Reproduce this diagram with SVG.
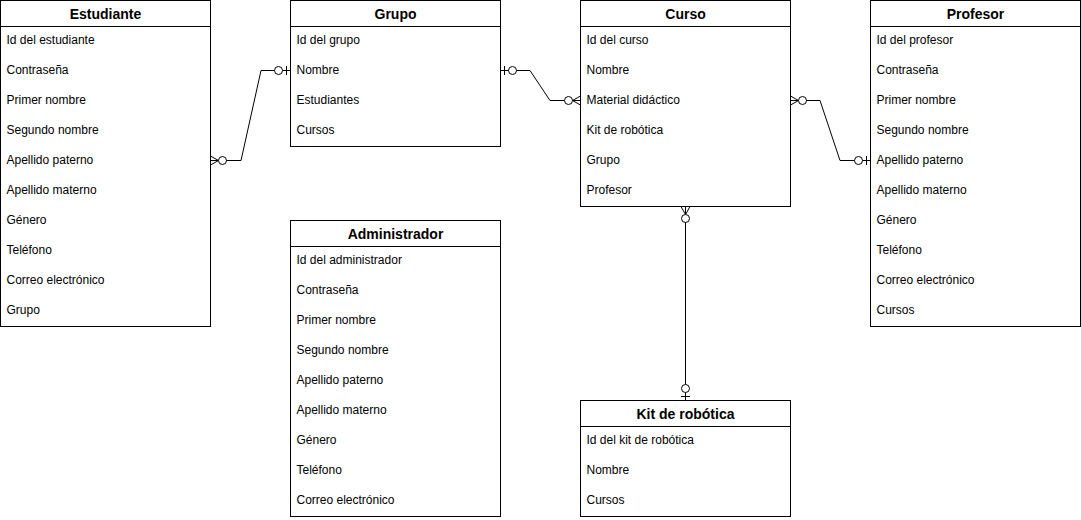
<svg xmlns="http://www.w3.org/2000/svg" width="1081" height="520" viewBox="0 0 1081 520">
<style>
.box{fill:#fff;stroke:#000;stroke-width:1}
.sep{stroke:#000;stroke-width:1}
.title{font-family:"Liberation Sans",Arial,sans-serif;font-size:14px;font-weight:bold;text-anchor:middle;fill:#000}
.row{font-family:"Liberation Sans",Arial,sans-serif;font-size:12px;fill:#000}
.conn{fill:none;stroke:#000;stroke-width:1}
</style>
<defs>
<marker id="zeroMany" markerUnits="userSpaceOnUse" orient="auto-start-reverse" markerWidth="1" markerHeight="1" refX="0" refY="0" overflow="visible">
<path d="M -8 0 L 0 -4.5 M -8 0 L 0 4.5 M -8 0 L 0 0" fill="none" stroke="#000" stroke-width="1"/>
<circle cx="-12" cy="0" r="4" fill="#fff" stroke="#000" stroke-width="1"/>
</marker>
<marker id="zeroOne" markerUnits="userSpaceOnUse" orient="auto-start-reverse" markerWidth="1" markerHeight="1" refX="0" refY="0" overflow="visible">
<path d="M -4 -4.5 L -4 4.5" fill="none" stroke="#000" stroke-width="1"/>
<circle cx="-12" cy="0" r="4" fill="#fff" stroke="#000" stroke-width="1"/>
</marker>
</defs>
<rect width="1081" height="520" fill="#fff"/>

<g id="connectors">
<path class="conn" d="M 210.5 160.5 L 241 160.5 L 261 70.5 L 290.5 70.5" marker-start="url(#zeroMany)" marker-end="url(#zeroOne)"/>
<path class="conn" d="M 500.5 70.5 L 530 70.5 L 550 100.5 L 580.5 100.5" marker-start="url(#zeroOne)" marker-end="url(#zeroMany)"/>
<path class="conn" d="M 790.5 100.5 L 820 100.5 L 840 160.5 L 870.5 160.5" marker-start="url(#zeroMany)" marker-end="url(#zeroOne)"/>
<path class="conn" d="M 685.5 206.5 L 685.5 400.5" marker-start="url(#zeroMany)" marker-end="url(#zeroOne)"/>
</g>

<g id="estudiante" transform="translate(0.5,0.5)">
<rect class="box" x="0" y="0" width="210" height="326"/>
<line class="sep" x1="0" y1="26" x2="210" y2="26"/>
<text class="title" x="105" y="18">Estudiante</text>
<text class="row" x="6" y="43">Id del estudiante</text>
<text class="row" x="6" y="73">Contraseña</text>
<text class="row" x="6" y="103">Primer nombre</text>
<text class="row" x="6" y="133">Segundo nombre</text>
<text class="row" x="6" y="163">Apellido paterno</text>
<text class="row" x="6" y="193">Apellido materno</text>
<text class="row" x="6" y="223">Género</text>
<text class="row" x="6" y="253">Teléfono</text>
<text class="row" x="6" y="283">Correo electrónico</text>
<text class="row" x="6" y="313">Grupo</text>
</g>

<g id="grupo" transform="translate(290.5,0.5)">
<rect class="box" x="0" y="0" width="210" height="146"/>
<line class="sep" x1="0" y1="26" x2="210" y2="26"/>
<text class="title" x="105" y="18">Grupo</text>
<text class="row" x="6" y="43">Id del grupo</text>
<text class="row" x="6" y="73">Nombre</text>
<text class="row" x="6" y="103">Estudiantes</text>
<text class="row" x="6" y="133">Cursos</text>
</g>

<g id="curso" transform="translate(580.5,0.5)">
<rect class="box" x="0" y="0" width="210" height="206"/>
<line class="sep" x1="0" y1="26" x2="210" y2="26"/>
<text class="title" x="105" y="18">Curso</text>
<text class="row" x="6" y="43">Id del curso</text>
<text class="row" x="6" y="73">Nombre</text>
<text class="row" x="6" y="103">Material didáctico</text>
<text class="row" x="6" y="133">Kit de robótica</text>
<text class="row" x="6" y="163">Grupo</text>
<text class="row" x="6" y="193">Profesor</text>
</g>

<g id="profesor" transform="translate(870.5,0.5)">
<rect class="box" x="0" y="0" width="210" height="326"/>
<line class="sep" x1="0" y1="26" x2="210" y2="26"/>
<text class="title" x="105" y="18">Profesor</text>
<text class="row" x="6" y="43">Id del profesor</text>
<text class="row" x="6" y="73">Contraseña</text>
<text class="row" x="6" y="103">Primer nombre</text>
<text class="row" x="6" y="133">Segundo nombre</text>
<text class="row" x="6" y="163">Apellido paterno</text>
<text class="row" x="6" y="193">Apellido materno</text>
<text class="row" x="6" y="223">Género</text>
<text class="row" x="6" y="253">Teléfono</text>
<text class="row" x="6" y="283">Correo electrónico</text>
<text class="row" x="6" y="313">Cursos</text>
</g>

<g id="administrador" transform="translate(290.5,220.5)">
<rect class="box" x="0" y="0" width="210" height="296"/>
<line class="sep" x1="0" y1="26" x2="210" y2="26"/>
<text class="title" x="105" y="18">Administrador</text>
<text class="row" x="6" y="43">Id del administrador</text>
<text class="row" x="6" y="73">Contraseña</text>
<text class="row" x="6" y="103">Primer nombre</text>
<text class="row" x="6" y="133">Segundo nombre</text>
<text class="row" x="6" y="163">Apellido paterno</text>
<text class="row" x="6" y="193">Apellido materno</text>
<text class="row" x="6" y="223">Género</text>
<text class="row" x="6" y="253">Teléfono</text>
<text class="row" x="6" y="283">Correo electrónico</text>
</g>

<g id="kit" transform="translate(580.5,400.5)">
<rect class="box" x="0" y="0" width="210" height="116"/>
<line class="sep" x1="0" y1="26" x2="210" y2="26"/>
<text class="title" x="105" y="18">Kit de robótica</text>
<text class="row" x="6" y="43">Id del kit de robótica</text>
<text class="row" x="6" y="73">Nombre</text>
<text class="row" x="6" y="103">Cursos</text>
</g>
</svg>
